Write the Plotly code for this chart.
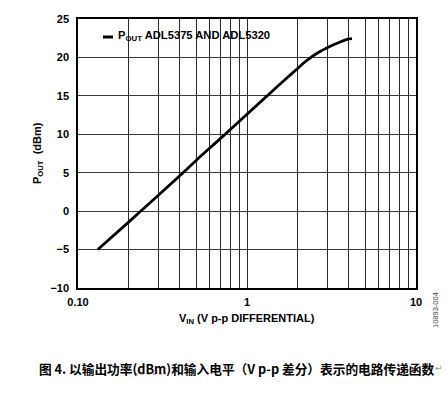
import plotly.graph_objects as go

# Data
vin = [0.131, 0.2, 0.3, 0.4, 0.5, 0.7, 1.0, 1.3, 1.6, 1.8, 2.0, 2.2, 2.4, 2.6, 2.8, 3.0, 3.5, 4.0, 4.18]
pout = [-5.0, -1.4, 2.1, 4.6, 6.6, 9.5, 12.6, 14.9, 16.7, 17.7, 18.6, 19.4, 20.05, 20.55, 20.95, 21.3, 21.95, 22.4, 22.45]

x_grid = [0.1, 0.2, 0.3, 0.4, 0.5, 0.6, 0.7, 0.8, 0.9, 1, 2, 3, 4, 5, 6, 7, 8, 9, 10]
x_labels = ["0.10", "", "", "", "", "", "", "", "", "1", "", "", "", "", "", "", "", "", "10"]
y_ticks = [-10, -5, 0, 5, 10, 15, 20, 25]
y_labels = ["\u221210", "\u22125", "0", "5", "10", "15", "20", "25"]

W, H = 446, 395
L, R, T, B = 78, 30, 19, 107
PW, PH = W - L - R, H - T - B


def px(x):
    return (x - L) / PW


def py(y):
    return (H - B - y) / PH


SANS = "Liberation Sans, Arial, sans-serif"

fig = go.Figure()
fig.add_trace(go.Scatter(x=vin, y=pout, mode="lines", line=dict(color="black", width=2.8, shape="spline"),
                         showlegend=False, hoverinfo="skip"))

fig.update_layout(
    width=W, height=H,
    margin=dict(l=L, r=R, t=T, b=B),
    paper_bgcolor="white", plot_bgcolor="white",
    xaxis=dict(type="log", range=[-1, 1], tickvals=x_grid, ticktext=x_labels, ticks="",
               showgrid=True, gridcolor="#2a2a2a", gridwidth=1, zeroline=False,
               showline=True, linecolor="black", linewidth=1.5, mirror=True,
               tickfont=dict(family=SANS, size=11, color="black", weight="bold"), ticklabelstandoff=3),
    yaxis=dict(range=[-10, 25], tickvals=y_ticks, ticktext=y_labels, ticks="",
               showgrid=True, gridcolor="#3a3a3a", gridwidth=1, zeroline=False,
               showline=True, linecolor="black", linewidth=1.5, mirror=True,
               tickfont=dict(family=SANS, size=11, color="black", weight="bold"), ticklabelstandoff=5),
)

# legend box (white background covering the grid), dash and text
fig.add_shape(type="rect", xref="paper", yref="paper", x0=px(100), x1=px(276), y0=py(43), y1=py(28),
              fillcolor="white", line=dict(width=0), layer="between")
fig.add_shape(type="line", xref="paper", yref="paper", x0=px(103), x1=px(113), y0=py(37), y1=py(37),
              line=dict(color="black", width=3), layer="above")

annos = [
    dict(x=px(116), y=py(36), text="P<sub>OUT</sub> ADL5375 AND ADL5320", xanchor="left", yanchor="middle",
         font=dict(family=SANS, size=11.2, color="black", weight="bold")),
    dict(x=px(247), y=py(319), text="V<sub>IN</sub> (V p-p DIFFERENTIAL)", xanchor="center", yanchor="middle",
         font=dict(family=SANS, size=11, color="black", weight="bold")),
    dict(x=px(38), y=py(153), text="P<sub>OUT</sub>  (dBm)", textangle=-90, xanchor="center", yanchor="middle",
         font=dict(family=SANS, size=11, color="black", weight="bold")),
    dict(x=px(435), y=py(310), text="10893-004", textangle=-90, xanchor="center", yanchor="middle",
         font=dict(family=SANS, size=7.5, color="#444")),
    dict(x=px(37), y=py(368), text="图 4. 以输出功率(dBm)和输入电平（V p-p 差分）表示的电路传递函数",
         xanchor="left", yanchor="middle",
         font=dict(family="Noto Sans CJK SC", size=12.7, color="black", weight="bold")),
    dict(x=px(439), y=py(368), text="↵", xanchor="center", yanchor="middle",
         font=dict(family="DejaVu Sans", size=9, color="#999")),
]
for a in annos:
    a.update(xref="paper", yref="paper", showarrow=False)
    fig.add_annotation(**a)

fig.add_shape(type="line", xref="paper", yref="paper", x0=px(135), x1=px(166), y0=py(374), y1=py(374),
              line=dict(color="#e05050", width=1, dash="dot"), layer="above")

fig.write_html("out.html", config={"displayModeBar": False},
               post_script="document.body.style.margin='0';document.body.style.overflow='hidden';")
